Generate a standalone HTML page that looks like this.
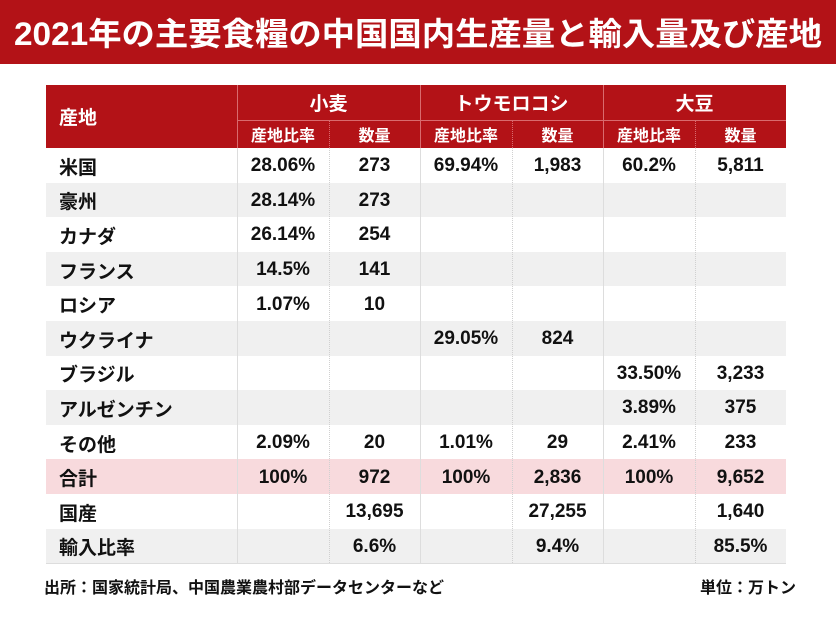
<!DOCTYPE html>
<html><head><meta charset="utf-8"><style>
body{margin:0;width:836px;height:627px;background:#fff;overflow:hidden;position:relative;font-family:"Liberation Sans","Noto Sans CJK JP",sans-serif;font-weight:bold;color:#111}
.a{position:absolute}
.c{position:absolute;display:flex;align-items:center;justify-content:center;font-size:19px}
.l{justify-content:flex-start;padding-left:13px;font-size:19px}
.h{color:#fff}
.vl{position:absolute;width:0;border-left:1px dotted #d0d0d0}
</style></head><body>
<div class="a" style="left:0;top:0;width:836px;height:64px;background:#b31217"></div>
<svg class="a" style="left:0;top:0" width="836" height="64"><text x="14" y="45" textLength="808" lengthAdjust="spacingAndGlyphs" fill="#fff" font-size="32" font-weight="bold" font-family="Liberation Sans, Noto Sans CJK JP, sans-serif">2021年の主要食糧の中国国内生産量と輸入量及び産地</text></svg>
<div class="a" style="left:46px;top:85px;width:740px;height:63px;background:#b31217"></div>
<div class="a" style="left:237px;top:85px;width:1px;height:63px;background:#d96a6e"></div>
<div class="a" style="left:420px;top:85px;width:1px;height:63px;background:#d96a6e"></div>
<div class="a" style="left:603px;top:85px;width:1px;height:63px;background:#d96a6e"></div>
<div class="a" style="left:237px;top:120px;width:549px;height:1px;background:#d96a6e"></div>
<div class="vl" style="left:329px;top:121px;height:27px;border-color:#d96a6e"></div>
<div class="vl" style="left:512px;top:121px;height:27px;border-color:#d96a6e"></div>
<div class="vl" style="left:695px;top:121px;height:27px;border-color:#d96a6e"></div>
<div class="c l h" style="left:46px;top:85px;width:178px;height:63px">産地</div>
<div class="c h" style="left:237px;top:85px;width:183px;height:35px;font-size:19px">小麦</div>
<div class="c h" style="left:420px;top:85px;width:183px;height:35px;font-size:19px">トウモロコシ</div>
<div class="c h" style="left:603px;top:85px;width:183px;height:35px;font-size:19px">大豆</div>
<div class="c h" style="left:237px;top:120px;width:92px;height:28px;font-size:16px">産地比率</div>
<div class="c h" style="left:329px;top:120px;width:91px;height:28px;font-size:16px">数量</div>
<div class="c h" style="left:420px;top:120px;width:92px;height:28px;font-size:16px">産地比率</div>
<div class="c h" style="left:512px;top:120px;width:91px;height:28px;font-size:16px">数量</div>
<div class="c h" style="left:603px;top:120px;width:92px;height:28px;font-size:16px">産地比率</div>
<div class="c h" style="left:695px;top:120px;width:91px;height:28px;font-size:16px">数量</div>
<div id="rows"></div>
<div class="a" style="left:44px;top:574px;font-size:16px">出所：国家統計局、中国農業農村部データセンターなど</div>
<div class="a" style="left:700px;top:574px;font-size:16px">単位：万トン</div>
<script>
var d=[["米国","28.06%","273","69.94%","1,983","60.2%","5,811"],["豪州","28.14%","273","","","",""],["カナダ","26.14%","254","","","",""],["フランス","14.5%","141","","","",""],["ロシア","1.07%","10","","","",""],["ウクライナ","","","29.05%","824","",""],["ブラジル","","","","","33.50%","3,233"],["アルゼンチン","","","","","3.89%","375"],["その他","2.09%","20","1.01%","29","2.41%","233"],["合計","100%","972","100%","2,836","100%","9,652"],["国産","","13,695","","27,255","","1,640"],["輸入比率","","6.6%","","9.4%","","85.5%"]];
var xs=[46,237,329,420,512,603,695,786],h="",rh=34.6;
d.forEach(function(r,i){var y=148+i*rh;var bg=i==9?"#f8dadd":(i%2?"#f0f0f0":"#fff");
h+='<div class="a" style="left:46px;top:'+y+'px;width:740px;height:'+rh+'px;background:'+bg+'"></div>';
r.forEach(function(t,j){h+='<div class="c'+(j==0?' l':'')+'" style="left:'+xs[j]+'px;top:'+(y+1)+'px;width:'+(xs[j+1]-xs[j]-(j==0?13:0))+'px;height:'+rh+'px">'+t+'</div>';});});
[237,420,603].forEach(function(x){h+='<div class="a" style="left:'+x+'px;top:148px;width:1px;height:415px;background:#ddd"></div>';});
[329,512,695].forEach(function(x){h+='<div class="vl" style="left:'+x+'px;top:148px;height:415px"></div>';});
h+='<div class="a" style="left:46px;top:563px;width:740px;height:1px;background:#ddd"></div>';
document.getElementById("rows").innerHTML=h;
</script>
</body></html>
